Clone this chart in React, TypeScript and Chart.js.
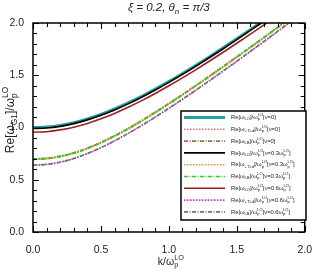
import React, { useEffect, useRef } from "react";
import { Chart, registerables } from "chart.js";

Chart.register(...registerables);

const kValues = [0, 0.1, 0.2, 0.3, 0.4, 0.5, 0.6, 0.7, 0.8, 0.9, 1.0, 1.1, 1.2, 1.3, 1.4, 1.5, 1.6, 1.7, 1.8, 1.9];

const loNu0 = [1.0, 1.005, 1.021, 1.047, 1.083, 1.126, 1.178, 1.236, 1.299, 1.368, 1.44, 1.517, 1.596, 1.678, 1.763, 1.849, 1.937, 2.027, 2.117, 2.209];
const tldNu0 = [0.7, 0.706, 0.726, 0.758, 0.803, 0.858, 0.921, 0.991, 1.067, 1.147, 1.23, 1.316, 1.404, 1.494, 1.585, 1.677, 1.77, 1.864, 1.959, 2.054];
const lbNu0 = [0.7, 0.706, 0.726, 0.758, 0.803, 0.858, 0.921, 0.991, 1.067, 1.147, 1.23, 1.316, 1.404, 1.494, 1.585, 1.677, 1.77, 1.864, 1.959, 2.054];
const loNu03 = [0.99, 0.995, 1.011, 1.037, 1.073, 1.117, 1.168, 1.226, 1.29, 1.359, 1.432, 1.508, 1.588, 1.67, 1.754, 1.841, 1.929, 2.018, 2.107, 2.201];
const tldNu03 = [0.695, 0.701, 0.721, 0.753, 0.798, 0.853, 0.916, 0.986, 1.062, 1.142, 1.225, 1.311, 1.399, 1.489, 1.58, 1.672, 1.765, 1.859, 1.954, 2.049];
const lbNu03 = [0.695, 0.701, 0.721, 0.753, 0.798, 0.853, 0.916, 0.986, 1.062, 1.142, 1.225, 1.311, 1.399, 1.489, 1.58, 1.672, 1.765, 1.859, 1.954, 2.049];
const loNu06 = [0.955, 0.96, 0.977, 1.003, 1.039, 1.083, 1.135, 1.193, 1.257, 1.326, 1.399, 1.475, 1.554, 1.636, 1.72, 1.806, 1.893, 1.982, 2.072, 2.164];
const tldNu06 = [0.64, 0.647, 0.668, 0.703, 0.75, 0.807, 0.872, 0.943, 1.019, 1.1, 1.184, 1.27, 1.358, 1.449, 1.541, 1.634, 1.728, 1.823, 1.919, 2.015];
const lbNu06 = [0.64, 0.647, 0.668, 0.703, 0.75, 0.807, 0.872, 0.943, 1.019, 1.1, 1.184, 1.27, 1.358, 1.449, 1.541, 1.634, 1.728, 1.823, 1.919, 2.015];

const nuLabels = ["0", "0.3", "0.6"];
const modeLabels = ["LO", "+TLd", "LB"];

const xTickValues = [0, 0.5, 1.0, 1.5, 2.0];
const yTickValues = [0, 0.5, 1.0, 1.5, 2.0];
const minorTickValues = [0, 0.1, 0.2, 0.3, 0.4, 0.5, 0.6, 0.7, 0.8, 0.9, 1.0, 1.1, 1.2, 1.3, 1.4, 1.5, 1.6, 1.7, 1.8, 1.9, 2.0];

type Part = { t?: string; kind: "n" | "sub" | "subsup"; sub?: string; sup?: string };

const FAMILY = "'Liberation Sans', Arial, sans-serif";

function measureRich(ctx: CanvasRenderingContext2D, parts: Part[], size: number, style: string) {
  let w = 0;
  for (const p of parts) {
    if (p.kind === "n") {
      ctx.font = `${style} ${size}px ${FAMILY}`;
      w += ctx.measureText(p.t || "").width;
    } else if (p.kind === "sub") {
      ctx.font = `${style} ${size * 0.7}px ${FAMILY}`;
      w += ctx.measureText(p.t || "").width;
    } else {
      ctx.font = `${style} ${size * 0.7}px ${FAMILY}`;
      w += Math.max(ctx.measureText(p.sub || "").width, ctx.measureText(p.sup || "").width);
    }
  }
  return w;
}

function drawRich(ctx: CanvasRenderingContext2D, parts: Part[], x: number, y: number, size: number, style: string, align: "left" | "center") {
  const w = measureRich(ctx, parts, size, style);
  let cx = align === "center" ? x - w / 2 : x;
  ctx.textBaseline = "middle";
  ctx.textAlign = "left";
  for (const p of parts) {
    if (p.kind === "n") {
      ctx.font = `${style} ${size}px ${FAMILY}`;
      ctx.fillText(p.t || "", cx, y);
      cx += ctx.measureText(p.t || "").width;
    } else if (p.kind === "sub") {
      ctx.font = `${style} ${size * 0.7}px ${FAMILY}`;
      ctx.fillText(p.t || "", cx, y + size * 0.3);
      cx += ctx.measureText(p.t || "").width;
    } else {
      ctx.font = `${style} ${size * 0.7}px ${FAMILY}`;
      ctx.fillText(p.sub || "", cx, y + size * 0.32);
      ctx.fillText(p.sup || "", cx, y - size * 0.42);
      cx += Math.max(ctx.measureText(p.sub || "").width, ctx.measureText(p.sup || "").width);
    }
  }
}

const styles = [
  { color: "rgb(40,160,160)", width: 2.8, dash: [] as number[] },
  { color: "rgb(235,105,105)", width: 1.6, dash: [1.5, 1.5] },
  { color: "rgb(150,110,70)", width: 1.6, dash: [4, 1.5, 1, 1.5] },
  { color: "rgb(0,0,0)", width: 1.6, dash: [] as number[] },
  { color: "rgb(240,140,40)", width: 1.6, dash: [1.5, 1.5] },
  { color: "rgb(40,210,30)", width: 1.6, dash: [4, 1.5, 1, 1.5] },
  { color: "rgb(160,30,30)", width: 1.6, dash: [] as number[] },
  { color: "rgb(225,40,225)", width: 1.6, dash: [1.5, 1.5] },
  { color: "rgb(110,110,110)", width: 1.6, dash: [4, 1.5, 1, 1.5] },
];

const seriesValues = [loNu0, tldNu0, lbNu0, loNu03, tldNu03, lbNu03, loNu06, tldNu06, lbNu06];

function legendParts(i: number): Part[] {
  const mode = modeLabels[i % 3];
  const nu = nuLabels[Math.floor(i / 3)];
  const parts: Part[] = [
    { kind: "n", t: "Re[ω" },
    { kind: "sub", t: mode },
    { kind: "n", t: "]/ω" },
    { kind: "subsup", sub: "p", sup: "LO" },
  ];
  if (nu === "0") {
    parts.push({ kind: "n", t: "[ν=0]" });
  } else {
    parts.push({ kind: "n", t: `[ν=${nu}ω` });
    parts.push({ kind: "subsup", sub: "p", sup: "LO" });
    parts.push({ kind: "n", t: "]" });
  }
  return parts;
}

const decorPlugin = {
  id: "decor",
  afterDraw(chart: any) {
    const ctx: CanvasRenderingContext2D = chart.ctx;
    const { left, right, top, bottom } = chart.chartArea;
    const xs = chart.scales.x;
    const ys = chart.scales.y;
    const xPix = (v: number) => {
      const p = xs.getPixelForValue(v);
      return Number.isFinite(p) ? p : left + ((v - xs.min) / (xs.max - xs.min)) * (right - left);
    };
    const yPix = (v: number) => {
      const p = ys.getPixelForValue(v);
      return Number.isFinite(p) ? p : bottom - ((v - ys.min) / (ys.max - ys.min)) * (bottom - top);
    };
    ctx.save();
    ctx.setLineDash([]);
    ctx.globalAlpha = 1;

    // ticks, inward, on all four sides
    ctx.strokeStyle = "#000";
    ctx.lineWidth = 1.1;
    ctx.beginPath();
    for (const v of minorTickValues) {
      const major = Math.abs(v * 2 - Math.round(v * 2)) < 1e-6;
      const len = major ? 6 : 4;
      const px = Math.round(xPix(v)) + 0.5;
      ctx.moveTo(px, bottom);
      ctx.lineTo(px, bottom - len);
      ctx.moveTo(px, top);
      ctx.lineTo(px, top + len);
      const py = Math.round(yPix(v)) + 0.5;
      ctx.moveTo(left, py);
      ctx.lineTo(left + len, py);
      ctx.moveTo(right, py);
      ctx.lineTo(right - len, py);
    }
    ctx.stroke();

    ctx.lineWidth = 1.5;
    ctx.strokeRect(left, top, right - left, bottom - top);

    // legend
    const lx0 = 181, ly0 = 111, lx1 = 306, ly1 = 220;
    ctx.fillStyle = "#fff";
    ctx.fillRect(lx0, ly0, lx1 - lx0, ly1 - ly0);
    ctx.lineWidth = 1.5;
    ctx.strokeStyle = "#000";
    ctx.strokeRect(lx0, ly0, lx1 - lx0, ly1 - ly0);
    for (let i = 0; i < styles.length; i++) {
      const s = styles[i];
      const y = 117.5 + i * 11.8;
      ctx.beginPath();
      ctx.strokeStyle = s.color;
      ctx.lineWidth = s.width;
      ctx.setLineDash(s.dash);
      ctx.moveTo(184, y);
      ctx.lineTo(225, y);
      ctx.stroke();
      ctx.setLineDash([]);
      ctx.fillStyle = "#222";
      drawRich(ctx, legendParts(i), 231, y, 5.8, "", "left");
    }

    // titles
    ctx.fillStyle = "#222";
    drawRich(
      ctx,
      [
        { kind: "n", t: "ξ = 0.2, θ" },
        { kind: "sub", t: "n" },
        { kind: "n", t: " = π/3" },
      ],
      (left + right) / 2,
      8,
      11.5,
      "italic",
      "center"
    );
    drawRich(
      ctx,
      [
        { kind: "n", t: "k/ω" },
        { kind: "subsup", sub: "p", sup: "LO" },
      ],
      (left + right) / 2 + 2,
      262,
      10.5,
      "",
      "center"
    );
    ctx.save();
    ctx.translate(11, 120);
    ctx.rotate(-Math.PI / 2);
    drawRich(
      ctx,
      [
        { kind: "n", t: "Re[ω" },
        { kind: "sub", t: "G1" },
        { kind: "n", t: "]/ω" },
        { kind: "subsup", sub: "p", sup: "LO" },
      ],
      0,
      0,
      12,
      "",
      "center"
    );
    ctx.restore();
    ctx.restore();
  },
};

export default function App() {
  const canvasRef = useRef<HTMLCanvasElement | null>(null);

  useEffect(() => {
    if (!canvasRef.current) return;
    const datasets = seriesValues.map((vals, i) => ({
      label: `s${i}`,
      data: kValues.map((k, j) => ({ x: k, y: vals[j] })),
      borderColor: styles[i].color,
      borderWidth: styles[i].width,
      borderDash: styles[i].dash,
      pointRadius: 0,
      fill: false,
      cubicInterpolationMode: "monotone" as const,
    }));
    const ordered = [8, 7, 6, 5, 4, 3, 2, 1, 0].map((i) => datasets[i]);
    const chart = new Chart(canvasRef.current, {
      type: "line",
      data: { datasets: ordered },
      options: {
        animation: false,
        responsive: true,
        maintainAspectRatio: false,
        layout: { padding: { top: 23, right: 9, left: 0, bottom: 0 } },
        plugins: { legend: { display: false }, tooltip: { enabled: false }, title: { display: false } },
        scales: {
          x: {
            type: "linear",
            min: 0,
            max: 2,
            grid: { display: false },
            border: { display: false },
            afterFit: (s: any) => {
              s.height = 41;
            },
            afterBuildTicks: (s: any) => {
              s.ticks = xTickValues.map((v) => ({ value: v }));
            },
            ticks: {
              color: "#222",
              font: { size: 10.5, family: FAMILY },
              padding: 4,
              maxRotation: 0,
              autoSkip: false,
              callback: (v: any) => Number(v).toFixed(1),
            },
          },
          y: {
            type: "linear",
            min: 0,
            max: 2,
            grid: { display: false },
            border: { display: false },
            afterFit: (s: any) => {
              s.width = 33;
            },
            afterBuildTicks: (s: any) => {
              s.ticks = yTickValues.map((v) => ({ value: v }));
            },
            ticks: {
              color: "#222",
              font: { size: 10.5, family: FAMILY },
              padding: 1,
              autoSkip: false,
              callback: (v: any) => Number(v).toFixed(1),
            },
          },
        },
      },
      plugins: [decorPlugin],
    });
    return () => chart.destroy();
  }, []);

  return (
    <div style={{ position: "absolute", left: 0, top: 0, width: 316, height: 273, background: "#fff" }}>
      <canvas ref={canvasRef} />
    </div>
  );
}
